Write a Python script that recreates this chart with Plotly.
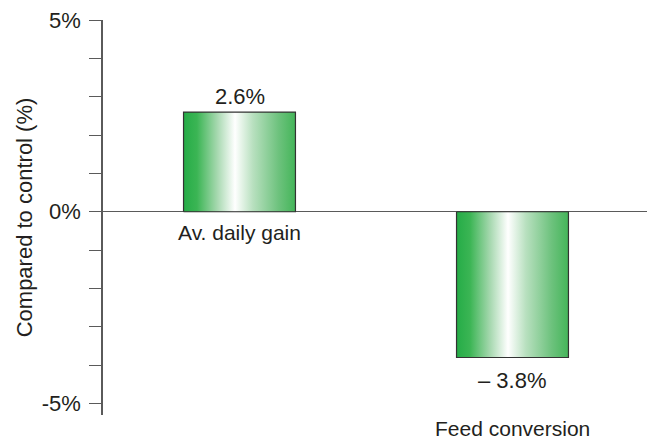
import plotly.graph_objects as go

categories = ["Av. daily gain", "Feed conversion"]
values = [2.6, -3.8]
value_labels = ["2.6%", "\u2013 3.8%"]
y_tick_vals = [-5, -4, -3, -2, -1, 0, 1, 2, 3, 4, 5]
y_tick_text = ["-5%", "", "", "", "", "0%", "", "", "", "", "5%"]

BAR_W = 0.41
FONT = "Liberation Sans, Arial, Helvetica, sans-serif"
TXT = "#231f20"
AXC = "#5a5a5a"

gradient = [
    [0.0, "#25ac47"], [0.12, "#3bb554"], [0.30, "#a6d8af"],
    [0.46, "#ffffff"], [0.62, "#b8e0bf"], [0.85, "#6dc27d"], [1.0, "#44b559"],
]

fig = go.Figure()
for i, v in enumerate(values):
    x0, x1 = i - BAR_W / 2, i + BAR_W / 2
    fig.add_trace(go.Scatter(
        x=[x0, x1, x1, x0, x0], y=[0, 0, v, v, 0],
        mode="lines", fill="toself",
        fillgradient=dict(type="horizontal", colorscale=gradient),
        line=dict(color="#333333", width=1.2),
        hoverinfo="skip", showlegend=False,
    ))
    # value label
    fig.add_annotation(
        x=i, y=v, text=value_labels[i], showarrow=False,
        yanchor="bottom" if v >= 0 else "top",
        yshift=1 if v >= 0 else -9,
        font=dict(size=22, color=TXT, family=FONT),
    )

# category labels
fig.add_annotation(x=0, y=0, text=categories[0], showarrow=False,
                   yanchor="top", yshift=-7,
                   font=dict(size=21, color=TXT, family=FONT))
fig.add_annotation(x=1, xref="x", y=0, yref="paper", text=categories[1],
                   showarrow=False, yanchor="bottom", yshift=-27,
                   font=dict(size=21, color=TXT, family=FONT))

fig.update_layout(
    width=647, height=433,
    margin=dict(l=95, r=0, t=12, b=26),
    paper_bgcolor="white", plot_bgcolor="white",
    font=dict(family=FONT, color=TXT),
    xaxis=dict(range=[-0.5, 1.522], showgrid=False, zeroline=False,
               showline=False, showticklabels=False, ticks=""),
    yaxis=dict(range=[-5.3, 5.0001], tickvals=y_tick_vals, ticktext=y_tick_text,
               ticks="outside", ticklen=12, tickwidth=1.3, tickcolor=AXC,
               showline=True, linecolor=AXC, linewidth=1.5,
               zeroline=True, zerolinecolor=AXC, zerolinewidth=1.3,
               showgrid=False, ticklabelstandoff=4, ticklabeloverflow="allow",
               tickfont=dict(size=22, color=TXT, family=FONT),
               title=dict(text="Compared to control (%)", standoff=3,
                          font=dict(size=22, color=TXT, family=FONT))),
)

fig.write_html("out.html")
